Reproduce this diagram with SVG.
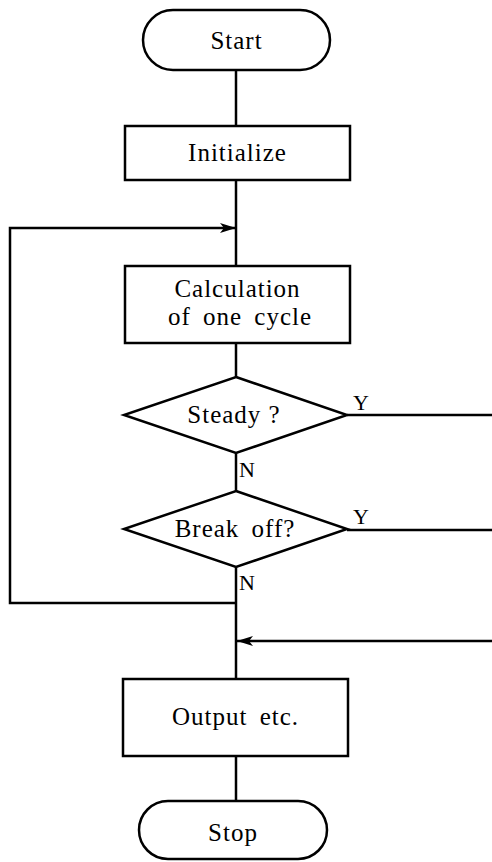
<svg xmlns="http://www.w3.org/2000/svg" width="492" height="862" viewBox="0 0 492 862">
<defs>
<style>
.s{fill:#fff;stroke:#000;stroke-width:2.5}
.c{fill:none;stroke:#000;stroke-width:2.5}
.t{font-family:"Liberation Serif","Times New Roman",serif;font-size:25px;fill:#000;text-anchor:middle;letter-spacing:1px;word-spacing:5px}
.l{font-family:"Liberation Serif","Times New Roman",serif;font-size:22px;fill:#000}
</style>
<marker id="ah" viewBox="0 0 16 10" refX="16" refY="5" markerWidth="16" markerHeight="10" markerUnits="userSpaceOnUse" orient="auto">
<path d="M0,0 L16,5 L0,10 L4,5 Z" fill="#000"/>
</marker>
</defs>
<rect width="492" height="862" fill="#fff"/>
<g id="connectors">
<line class="c" x1="236" y1="70" x2="236" y2="126"/>
<line class="c" x1="236" y1="180" x2="236" y2="266"/>
<line class="c" x1="236" y1="343" x2="236" y2="377"/>
<line class="c" x1="236" y1="453" x2="236" y2="491"/>
<line class="c" x1="236" y1="567" x2="236" y2="679"/>
<line class="c" x1="236" y1="756" x2="236" y2="800"/>
<polyline class="c" points="236,603 10,603 10,228 236,228" marker-end="url(#ah)"/>
<line class="c" x1="347" y1="415" x2="492" y2="415"/>
<line class="c" x1="347" y1="530" x2="492" y2="530"/>
<line class="c" x1="492" y1="641" x2="237" y2="641" marker-end="url(#ah)"/>
<text class="l" x="353" y="410">Y</text>
<text class="l" x="353" y="524">Y</text>
<text class="l" x="239" y="477">N</text>
<text class="l" x="239" y="590">N</text>
</g>
<g id="start">
<rect class="s" x="143" y="10" width="187" height="60" rx="30" ry="30"/>
<text class="t" x="236.5" y="49">Start</text>
</g>
<g id="initialize">
<rect class="s" x="125" y="126" width="225" height="54"/>
<text class="t" x="237.5" y="161">Initialize</text>
</g>
<g id="calculation">
<rect class="s" x="125" y="266" width="225" height="77"/>
<text class="t" x="237.5" y="297">Calculation</text>
<text class="t" x="240" y="325">of one cycle</text>
</g>
<g id="steady">
<polygon class="s" points="236,377 347,415 236,453 124,415"/>
<text class="t" x="234" y="423" style="word-spacing:0">Steady ?</text>
</g>
<g id="breakoff">
<polygon class="s" points="236,491 347,529 236,567 124,529"/>
<text class="t" x="235" y="537">Break off?</text>
</g>
<g id="output">
<rect class="s" x="123" y="679" width="225" height="77"/>
<text class="t" x="235.5" y="725">Output etc.</text>
</g>
<g id="stop">
<rect class="s" x="139" y="801" width="188" height="58" rx="29" ry="29"/>
<text class="t" x="233" y="841">Stop</text>
</g>
</svg>
